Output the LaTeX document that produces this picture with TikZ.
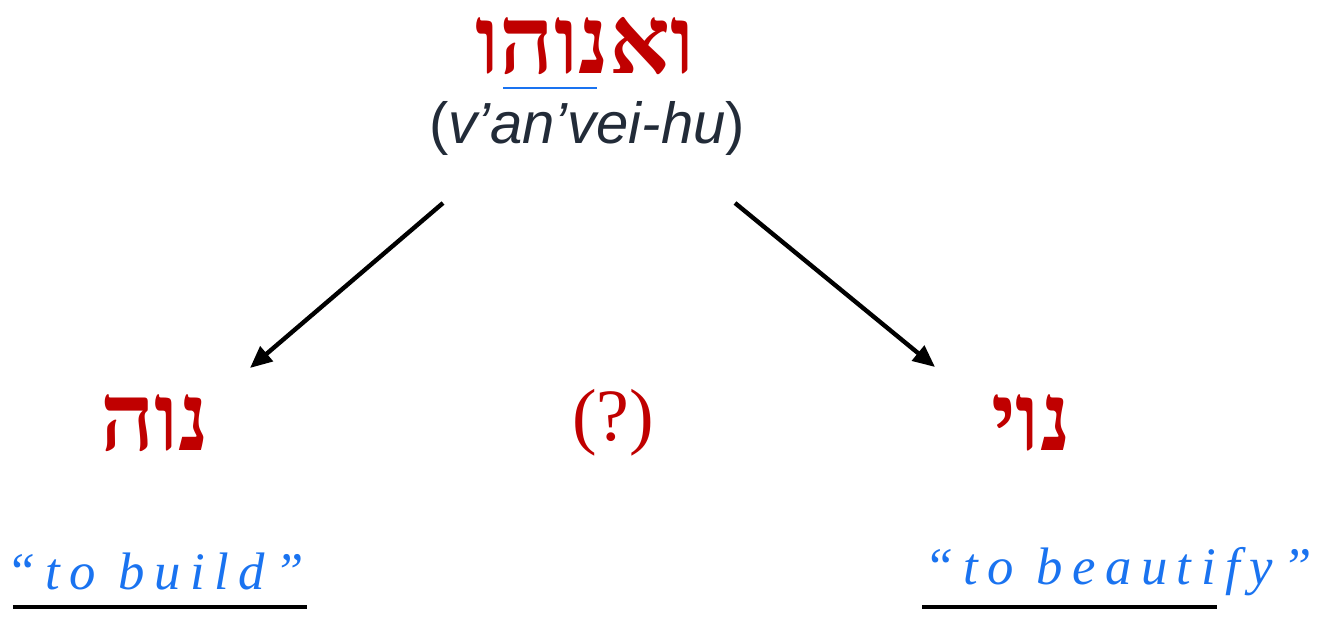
\documentclass[tikz,border=0pt]{standalone}
\usepackage{fontspec}
\usepackage{tikz}
\usetikzlibrary{calc,arrows.meta,positioning}
\TeXXeTstate=1
\setmainfont{Liberation Sans}
\newfontfamily\hebfont[Script=Hebrew]{Liberation Serif}
\newfontfamily\handfont[LetterSpace=18]{Liberation Serif}
\definecolor{root-red}{HTML}{C00000}
\definecolor{ink-blue}{HTML}{1A73F0}
\definecolor{slate}{HTML}{222B38}

\begin{document}
\begin{tikzpicture}[thick,
    heb/.style={text=root-red, font=\hebfont\bfseries\fontsize{54}{58}\selectfont},
    hand/.style={text=ink-blue, font=\handfont\itshape\fontsize{30}{34}\selectfont},
    derive/.style={line width=2.5pt, -{Triangle[length=0.44cm,width=0.38cm]}},
    rule/.style={line width=2.8pt}]
    \useasboundingbox (0,0) rectangle (26.42,12.58);
    \node[heb] (root) at (11.70,11.66) {\beginR ואנוהו\endR};
    \node[text=slate, font=\fontsize{33}{37}\selectfont] (translit) at (11.74,10.02) {(\textit{v’an’vei-hu})};
    \draw[ink-blue, line width=1.2pt] (10.06,10.82) -- (11.94,10.82);
    \node[heb] (noh) at (3.10,4.12) {\beginR נוה\endR};
    \node[text=root-red, font=\fontspec{Liberation Serif}\fontsize{42}{46}\selectfont] (quest) at (12.26,4.12) {(?)};
    \node[heb] (noy) at (20.62,4.12) {\beginR נוי\endR};
    % arrows from the word down to the two roots
    \coordinate (l-start) at (8.86,8.52);  \coordinate (l-end) at (5.00,5.22);
    \coordinate (r-start) at (14.70,8.52); \coordinate (r-end) at (18.70,5.24);
    \draw[derive] (l-start) -- (l-end);
    \draw[derive] (r-start) -- (r-end);
    \node[hand] (build) at (3.10,1.14) {“to build”};
    \node[hand] (beaut) at (22.36,1.14) {“to beautify”};
    \draw[rule] (0.26,0.44) -- (6.14,0.44);
    \draw[rule] (18.44,0.44) -- (24.34,0.44);
\end{tikzpicture}
\end{document}
